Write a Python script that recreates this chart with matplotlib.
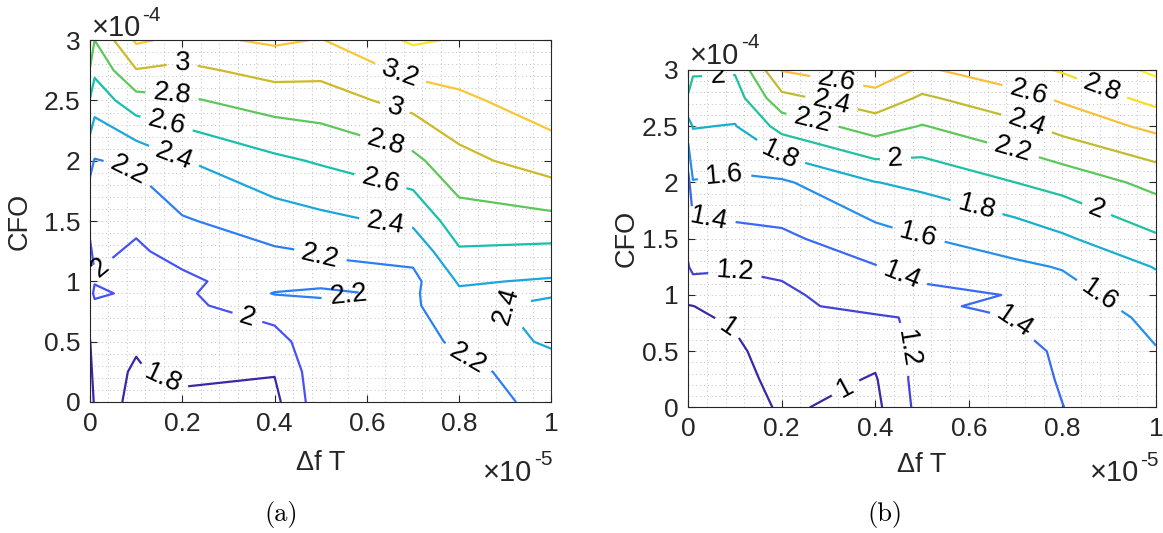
import numpy as np
import matplotlib
matplotlib.use('Agg')
import matplotlib.pyplot as plt
from matplotlib.colors import LinearSegmentedColormap
from matplotlib.ticker import MultipleLocator, FormatStrFormatter

plt.rcParams['font.family'] = ['Liberation Sans', 'DejaVu Sans']

# sweep grid: Delta f T in units of 1e-5, CFO in units of 1e-4
df_t = [0, 0.01, 0.1, 0.2, 0.4, 0.5, 0.7, 0.8, 1.0]
cfo = [0, 0.25, 0.5, 0.8, 0.9, 1.0, 1.25, 1.5, 2.0, 2.5, 2.75, 3.0]

# panel (a), one row per cfo value
z_a = [
    [1.76, 1.81, 1.795, 1.77, 1.75, 2.12, 2.10, 2.12, 2.25],
    [1.77, 1.84, 1.79, 1.83, 1.81, 2.13, 2.12, 2.16, 2.27],
    [1.795, 1.88, 1.81, 1.88, 1.92, 2.14, 2.14, 2.23, 2.44],
    [1.87, 1.93, 1.88, 1.96, 2.10, 2.15, 2.17, 2.34, 2.46],
    [1.89, 2.06, 1.93, 1.96, 2.21, 2.23, 2.17, 2.37, 2.37],
    [1.91, 1.98, 1.93, 1.955, 2.12, 2.16, 2.15, 2.42, 2.38],
    [1.97, 2.05, 1.97, 2.07, 2.18, 2.21, 2.26, 2.58, 2.55],
    [2.048, 2.087, 2.04, 2.18, 2.30, 2.35, 2.44, 2.71, 2.74],
    [2.256, 2.19, 2.24, 2.39, 2.56, 2.62, 2.75, 2.94, 3.10],
    [2.585, 2.48, 2.72, 2.77, 2.89, 2.91, 3.07, 3.16, 3.30],
    [2.79, 2.64, 2.99, 2.95, 3.07, 3.05, 3.25, 3.27, 3.35],
    [2.90, 2.80, 3.23, 3.15, 3.23, 3.19, 3.43, 3.38, 3.38],
]

# panel (b)
z_b = [
    [0.80, 0.80, 0.92, 1.02, 0.953, 1.274, 1.34, 1.398, 1.50],
    [0.84, 0.85, 0.906, 1.087, 0.985, 1.29, 1.35, 1.41, 1.53],
    [0.88, 0.90, 0.96, 1.11, 1.05, 1.264, 1.36, 1.42, 1.59],
    [0.96, 0.97, 1.03, 1.15, 1.18, 1.22, 1.41, 1.46, 1.65],
    [0.995, 0.998, 1.06, 1.165, 1.25, 1.33, 1.495, 1.50, 1.68],
    [1.04, 1.06, 1.09, 1.17, 1.29, 1.35, 1.409, 1.53, 1.71],
    [1.19, 1.25, 1.22, 1.23, 1.39, 1.47, 1.57, 1.61, 1.81],
    [1.25, 1.28, 1.33, 1.36, 1.52, 1.59, 1.68, 1.77, 1.97],
    [1.33, 1.59, 1.565, 1.57, 1.795, 1.845, 2.00, 2.07, 2.26],
    [1.72, 1.81, 1.79, 2.07, 2.29, 2.19, 2.35, 2.47, 2.65],
    [1.98, 1.90, 1.91, 2.34, 2.53, 2.37, 2.53, 2.63, 2.87],
    [2.10, 2.03, 2.02, 2.61, 2.72, 2.57, 2.73, 2.82, 3.04],
]

levels_a = [1.8, 2.0, 2.2, 2.4, 2.6, 2.8, 3.0, 3.2, 3.4]
levels_b = [1.0, 1.2, 1.4, 1.6, 1.8, 2.0, 2.2, 2.4, 2.6, 2.8, 3.0]

# where the inline labels sit
label_pos_a = [(0.2, 2.82), (0.67, 2.70), (0.178, 2.55), (0.66, 2.43),
               (0.166, 2.31), (0.64, 2.13), (0.18, 2.02), (0.086, 1.94),
               (0.63, 1.84), (0.64, 1.47), (0.50, 1.22), (0.038, 1.04),
               (0.56, 0.88), (0.34, 0.69), (0.89, 0.76), (0.16, 0.21),
               (0.806, 0.27)]
label_pos_b = [(0.063, 2.91), (0.316, 2.87), (0.304, 2.67), (0.265, 2.54),
               (0.193, 2.23), (0.443, 2.20), (0.078, 2.05), (0.724, 2.76),
               (0.883, 2.82), (0.724, 2.53), (0.693, 2.27), (0.871, 1.74),
               (0.613, 1.73), (0.49, 1.50), (0.043, 1.64), (0.455, 1.16),
               (0.10, 1.21), (0.704, 0.78), (0.883, 1.02), (0.086, 0.72),
               (0.451, 0.50), (0.338, 0.16)]

parula = LinearSegmentedColormap.from_list('parula', [
    (0.0, (0.24, 0.15, 0.66)),
    (0.11, (0.28, 0.32, 0.96)),
    (0.22, (0.18, 0.49, 0.96)),
    (0.32, (0.11, 0.64, 0.89)),
    (0.44, (0.07, 0.75, 0.69)),
    (0.56, (0.36, 0.78, 0.36)),
    (0.67, (0.80, 0.73, 0.16)),
    (0.76, (0.98, 0.75, 0.23)),
    (0.88, (0.96, 0.90, 0.12)),
    (1.0, (0.98, 0.98, 0.08)),
])

dark = '#262626'


def multiplier(ax, x, y, power):
    # MATLAB style "x10^p" exponent label
    base = ax.text(x, y, '\u00d710', transform=ax.transAxes, fontsize=21,
                   color=dark, ha='left', va='center')
    ax.annotate(power, xy=(1, 0.62), xycoords=base, xytext=(1, 0),
                textcoords='offset points', fontsize=15, color=dark,
                ha='left', va='bottom')


def draw_panel(ax, z, levels, vmin, vmax, label_pos, ylab_x, xmul_x, ymul_y):
    cs = ax.contour(df_t, cfo, np.array(z), levels=levels, cmap=parula,
                    vmin=vmin, vmax=vmax, linewidths=1.6)
    ax.clabel(cs, fmt='%g', fontsize=19.5, colors='k', inline=True,
              inline_spacing=8, manual=label_pos)

    ax.set_xlim(0, 1)
    ax.set_ylim(0, 3)
    ax.set_xticks([0, 0.2, 0.4, 0.6, 0.8, 1.0])
    ax.set_yticks([0, 0.5, 1, 1.5, 2, 2.5, 3])
    ax.xaxis.set_major_formatter(FormatStrFormatter('%g'))
    ax.yaxis.set_major_formatter(FormatStrFormatter('%g'))
    ax.xaxis.set_minor_locator(MultipleLocator(0.04))
    ax.yaxis.set_minor_locator(MultipleLocator(0.1))
    ax.grid(which='both', linestyle=(0, (1, 3)), color='#c0c0c0', linewidth=0.7)
    ax.tick_params(which='major', direction='in', top=True, right=True,
                   length=5, width=0.8, labelsize=19, colors=dark, pad=7)
    ax.tick_params(which='minor', length=0)
    for s in ax.spines.values():
        s.set_color(dark)
        s.set_linewidth(0.8)

    ax.set_xlabel('\u0394f T', fontsize=19.5, color=dark, va='center')
    ax.xaxis.set_label_coords(0.5, -0.17)
    ax.set_ylabel('CFO', fontsize=19.5, color=dark, va='center')
    ax.yaxis.set_label_coords(ylab_x, 0.5)

    multiplier(ax, 0.004, ymul_y, '-4')
    multiplier(ax, xmul_x, -0.195, '-5')


fig = plt.figure(figsize=(11.63, 5.33), dpi=100)
ax_a = fig.add_axes([0.0774, 0.2458, 0.3968, 0.6788])
ax_b = fig.add_axes([0.5918, 0.2355, 0.4021, 0.6332])

draw_panel(ax_a, z_a, levels_a, 1.8, 3.59, label_pos_a, -0.152, 0.852, 1.034)
draw_panel(ax_b, z_b, levels_b, 1.05, 3.1, label_pos_b, -0.131, 0.858, 1.042)

fig.text(281 / 1163, 1 - 515 / 533, '(a)', family='cmr10', fontsize=19,
         ha='center', va='center')
fig.text(885 / 1163, 1 - 515 / 533, '(b)', family='cmr10', fontsize=19,
         ha='center', va='center')

fig.savefig('out.png', dpi=100)
